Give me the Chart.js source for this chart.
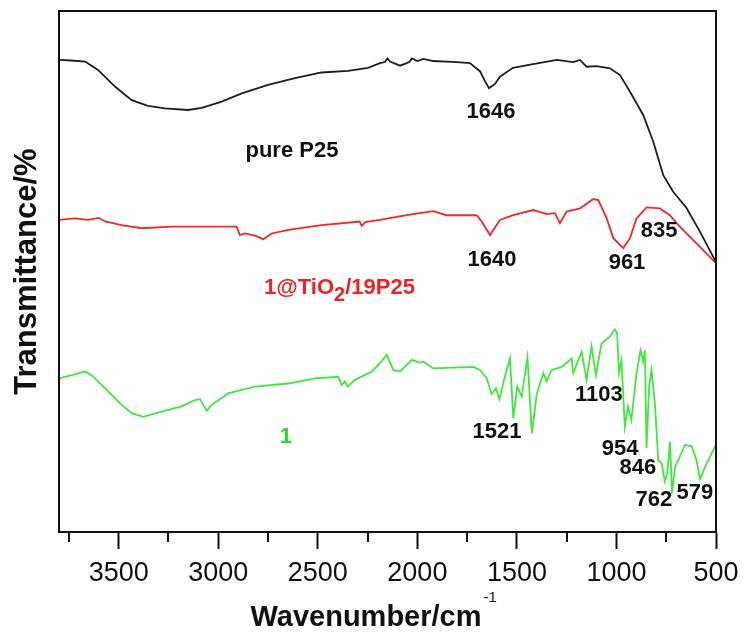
<!DOCTYPE html>
<html>
<head>
<meta charset="utf-8">
<script src="https://cdn.jsdelivr.net/npm/chart.js@4/dist/chart.umd.min.js"></script>
<style>
  html, body { margin: 0; padding: 0; background: #fff; }
  #wrap { width: 745px; height: 635px; }
</style>
</head>
<body>
<div id="wrap"><canvas id="ftir" width="745" height="635"></canvas></div>
<script>
// FTIR spectra, wavenumber (cm-1) vs transmittance (arbitrary, offset curves)
const p25Wn = [3800, 3740, 3669, 3604, 3519, 3435, 3353, 3268, 3152, 3083, 2983, 2882, 2750, 2615, 2481, 2348, 2248, 2188, 2163, 2150, 2137, 2087, 2040, 2028, 2000, 1970, 1921, 1800, 1736, 1685, 1660, 1640, 1610, 1585, 1520, 1419, 1300, 1218, 1183, 1150, 1100, 1033, 982, 932, 865, 815, 765, 715, 648, 580, 500];
const p25T = [90.6, 90.5, 90.3, 88.7, 85.5, 82.9, 81.8, 81.3, 81.0, 81.4, 82.6, 84.2, 85.8, 87.1, 88.2, 88.5, 89.1, 90.0, 90.2, 90.9, 90.3, 89.5, 90.2, 90.9, 90.4, 90.8, 90.4, 90.2, 90.0, 88.4, 86.5, 85.2, 86.0, 87.4, 89.1, 89.8, 90.6, 90.2, 90.6, 89.3, 89.4, 89.0, 87.7, 84.5, 80.0, 74.9, 68.5, 65.3, 62.2, 57.6, 51.8];

const tioWn = [3800, 3720, 3654, 3600, 3569, 3485, 3385, 3234, 3067, 2908, 2891, 2866, 2816, 2774, 2732, 2648, 2481, 2313, 2290, 2280, 2260, 2188, 2054, 1920, 1853, 1702, 1677, 1635, 1585, 1518, 1418, 1351, 1309, 1284, 1250, 1183, 1116, 1091, 1049, 1016, 966, 932, 899, 849, 782, 732, 682, 598, 500];
const tioT = [59.9, 60.2, 59.9, 60.3, 59.6, 58.9, 58.3, 58.6, 58.6, 58.6, 57.0, 57.3, 56.9, 56.2, 57.3, 58.0, 58.9, 59.5, 59.6, 58.8, 59.5, 59.9, 60.8, 61.6, 60.8, 60.8, 59.6, 57.0, 59.9, 60.8, 61.8, 61.0, 61.2, 59.3, 61.5, 62.1, 63.9, 63.7, 60.2, 56.4, 54.5, 56.4, 60.2, 62.3, 62.1, 60.8, 58.6, 55.4, 51.6];

const cpdWn = [3800, 3736, 3669, 3636, 3569, 3485, 3435, 3377, 3284, 3184, 3117, 3092, 3058, 3033, 2950, 2816, 2648, 2514, 2397, 2380, 2364, 2350, 2313, 2229, 2188, 2154, 2121, 2087, 2028, 1987, 1970, 1920, 1853, 1719, 1685, 1652, 1627, 1605, 1588, 1565, 1535, 1518, 1498, 1476, 1447, 1425, 1400, 1367, 1351, 1325, 1275, 1225, 1217, 1175, 1150, 1125, 1103, 1075, 1033, 1008, 997, 987, 975, 958, 942, 925, 899, 879, 866, 857, 849, 836, 824, 807, 790, 773, 757, 745, 731, 721, 706, 681, 656, 623, 598, 580, 555, 500];
const cpdT = [29.5, 30.1, 30.8, 30.1, 27.6, 24.4, 22.8, 22.1, 23.1, 24.1, 25.3, 25.5, 23.3, 24.4, 26.6, 27.9, 28.5, 29.5, 29.8, 28.2, 28.9, 27.9, 29.2, 30.8, 32.4, 34.0, 31.1, 30.8, 33.0, 32.5, 32.7, 31.4, 31.5, 31.7, 31.1, 29.5, 26.5, 27.6, 25.5, 29.2, 33.3, 21.8, 27.9, 26.0, 33.5, 18.9, 26.6, 30.5, 28.9, 31.1, 31.7, 33.3, 30.5, 34.6, 29.2, 35.6, 30.1, 36.2, 37.5, 38.9, 38.2, 30.5, 33.0, 20.2, 24.1, 21.5, 30.5, 34.9, 32.7, 34.9, 16.1, 27.9, 31.1, 24.7, 13.8, 13.2, 9.7, 11.3, 17.3, 7.4, 12.5, 14.5, 16.7, 16.5, 13.8, 10.1, 12.5, 16.8];

const majorTicks = [500, 1000, 1500, 2000, 2500, 3000, 3500];
const minorTicks = [750, 1250, 1750, 2250, 2750, 3250, 3750];

// peak labels: text, wavenumber, transmittance (where the label sits)
const peakText = ['1646', '1640', '961', '835', '1521', '1103', '954', '846', '762', '579'];
const peakWn   = [1630, 1625, 947, 786, 1600, 1088, 982, 892, 812, 606];
const peakT    = [80.7, 52.2, 51.6, 57.8, 19.2, 26.3, 15.9, 12.3, 6.1, 7.5];

const FONT = '"Liberation Sans", Arial, sans-serif';

function pts(xs, ys) {
  return xs.map((x, i) => ({ x: x, y: ys[i] }));
}

const extras = {
  id: 'extras',
  afterDraw(chart) {
    const ctx = chart.ctx;
    const a = chart.chartArea;
    const xs = chart.scales.x, ys = chart.scales.y;
    ctx.save();
    // frame
    ctx.strokeStyle = '#111';
    ctx.lineWidth = 2;
    ctx.strokeRect(a.left, a.top, a.right - a.left, a.bottom - a.top);
    // minor ticks
    minorTicks.forEach(v => {
      const px = Math.round(xs.getPixelForValue(v));
      ctx.beginPath();
      ctx.moveTo(px, a.bottom);
      ctx.lineTo(px, a.bottom + 10);
      ctx.stroke();
    });

    ctx.textAlign = 'center';
    ctx.textBaseline = 'middle';
    ctx.fillStyle = '#111';
    ctx.font = 'bold 22px ' + FONT;
    peakText.forEach((t, i) => {
      ctx.fillText(t, xs.getPixelForValue(peakWn[i]), ys.getPixelForValue(peakT[i]));
    });

    // sample names
    ctx.fillText('pure P25', xs.getPixelForValue(2630), ys.getPixelForValue(73.1));
    ctx.fillStyle = '#22dd22';
    ctx.fillText('1', xs.getPixelForValue(2660), ys.getPixelForValue(18.2));

    ctx.fillStyle = '#ee2222';
    ctx.textAlign = 'left';
    let x0 = xs.getPixelForValue(2770), y0 = ys.getPixelForValue(46.8);
    ctx.fillText('1@TiO', x0, y0);
    x0 += ctx.measureText('1@TiO').width;
    ctx.font = 'bold 20px ' + FONT;
    ctx.fillText('2', x0, y0 + 7);
    x0 += ctx.measureText('2').width;
    ctx.font = 'bold 22px ' + FONT;
    ctx.fillText('/19P25', x0, y0);

    // x axis title with superscript
    ctx.fillStyle = '#111';
    ctx.font = 'bold 29px ' + FONT;
    ctx.textAlign = 'left';
    const tt = 'Wavenumber/cm';
    const w = ctx.measureText(tt).width;
    const tx = 366 - w / 2;
    ctx.fillText(tt, tx, 618);
    ctx.font = '15px ' + FONT;
    ctx.fillText('-1', tx + w + 2, 598);
    ctx.restore();
  }
};

new Chart(document.getElementById('ftir'), {
  type: 'line',
  data: {
    datasets: [
      { label: 'pure P25', data: pts(p25Wn, p25T), borderColor: '#1e1e1e', borderWidth: 1.8 },
      { label: '1@TiO2/19P25', data: pts(tioWn, tioT), borderColor: '#ee2a2a', borderWidth: 1.8 },
      { label: '1', data: pts(cpdWn, cpdT), borderColor: '#3ee83e', borderWidth: 1.8 }
    ]
  },
  options: {
    responsive: false,
    animation: false,
    elements: { point: { radius: 0 }, line: { tension: 0 } },
    layout: { padding: { top: 11, right: 29, left: 0, bottom: 0 } },
    plugins: { legend: { display: false }, tooltip: { enabled: false } },
    scales: {
      x: {
        type: 'linear',
        reverse: true,
        min: 500,
        max: 3800,
        afterBuildTicks: s => { s.ticks = majorTicks.map(v => ({ value: v })); },
        afterFit: s => { s.height = 103; },
        ticks: {
          font: { family: FONT, size: 27, lineHeight: 1 },
          color: '#111',
          padding: 11,
          maxRotation: 0,
          autoSkip: false,
          callback: v => String(v)
        },
        grid: { drawOnChartArea: false, tickLength: 17, tickWidth: 2, tickColor: '#111' },
        border: { color: '#111', width: 2 }
      },
      y: {
        min: 0,
        max: 100,
        afterFit: s => { s.width = 59; },
        ticks: { display: false },
        grid: { display: false },
        border: { color: '#111', width: 2 },
        title: {
          display: true,
          text: 'Transmittance/%',
          color: '#111',
          font: { family: FONT, size: 31, weight: 'bold', lineHeight: 1 },
          padding: { top: 12, bottom: 0 }
        }
      }
    }
  },
  plugins: [extras]
});
</script>
</body>
</html>
